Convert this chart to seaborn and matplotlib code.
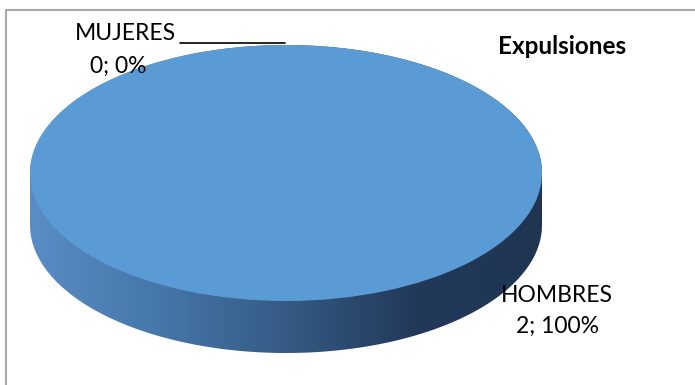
import numpy as np
import matplotlib
matplotlib.use("Agg")
import matplotlib.pyplot as plt
from matplotlib.path import Path
from matplotlib.patches import PathPatch
from matplotlib.colors import LinearSegmentedColormap
from matplotlib.lines import Line2D
import seaborn as sns

# data
categories = ["MUJERES", "HOMBRES"]
values = [0, 2]
title = "Expulsiones"

sns.set_theme(style="white")
plt.rcParams['font.family'] = ['Lato', 'DejaVu Sans']

W, H = 695, 385
fig = plt.figure(figsize=(W / 100, H / 100), dpi=100)
ax = fig.add_axes([0, 0, 1, 1])

# pixel geometry of the "3d" pie
cx, cy = 286, 173
a_px, b_px = 256, 128
depth = 52 / b_px

top_col = "#5B9BD5"
side_cmap = LinearSegmentedColormap.from_list(
    "side", ["#5A8CC6", "#4677AA", "#355B84", "#22395A", "#1F3552"])

# side of the cylinder: gradient clipped to lower half-ellipse band
t = np.linspace(np.pi, 2 * np.pi, 200)
lower = np.column_stack([np.cos(t), np.sin(t) - depth])
t2 = np.linspace(0, np.pi, 200)
upper = np.column_stack([np.cos(t2), np.sin(t2)])
verts = np.vstack([[[-1, 0]], lower, [[1, 0]], upper, [[-1, 0]]])
codes = [Path.MOVETO] + [Path.LINETO] * (len(verts) - 2) + [Path.CLOSEPOLY]
clip = PathPatch(Path(verts, codes), facecolor="none", edgecolor="none")
ax.add_patch(clip)
grad = np.linspace(0, 1, 256).reshape(1, -1)
im = ax.imshow(grad, cmap=side_cmap, extent=[-1, 1, -1 - depth, 1],
               aspect="auto", zorder=1)
im.set_clip_path(clip)

# top face from the data
total = sum(values)
wedges, _ = ax.pie(values, colors=["#5B9BD5", top_col], startangle=90,
                   counterclock=False, radius=1,
                   wedgeprops=dict(linewidth=0))
for w in wedges:
    w.set_zorder(2)

ax.set_aspect("auto")
ax.set_xlim((0 - cx) / a_px, (W - cx) / a_px)
ax.set_ylim(-(H - cy) / b_px, cy / b_px)
ax.axis("off")

# labels
fs = 16.5
pct = [v / total * 100 for v in values]
fig.text(75 / W, 1 - 33 / H, categories[0], fontsize=fs,
         ha="left", va="center", color="black")
fig.add_artist(Line2D([180 / W, 285 / W], [1 - 43 / H, 1 - 43 / H], color="black",
                      lw=1.2, transform=fig.transFigure))
fig.text(118 / W, 1 - 66 / H, f"{values[0]}; {pct[0]:.0f}%", fontsize=fs,
         ha="center", va="center", color="black")
fig.text(557 / W, 1 - 295 / H, categories[1], fontsize=fs,
         ha="center", va="center", color="black")
fig.text(557 / W, 1 - 326 / H, f"{values[1]}; {pct[1]:.0f}%", fontsize=fs,
         ha="center", va="center", color="black")
fig.text(562 / W, 1 - 46 / H, title, fontsize=17.5, fontweight="bold",
         ha="center", va="center", color="black")

# chart border (only left and top visible)
bc = "#A6A6A6"
fig.add_artist(Line2D([5.5 / W, 5.5 / W], [0, 1 - 9.5 / H], color=bc, lw=1.5,
                      transform=fig.transFigure))
fig.add_artist(Line2D([5.5 / W, 1], [1 - 9.5 / H, 1 - 9.5 / H], color=bc, lw=1.5,
                      transform=fig.transFigure))

fig.savefig("out.png", dpi=100)
